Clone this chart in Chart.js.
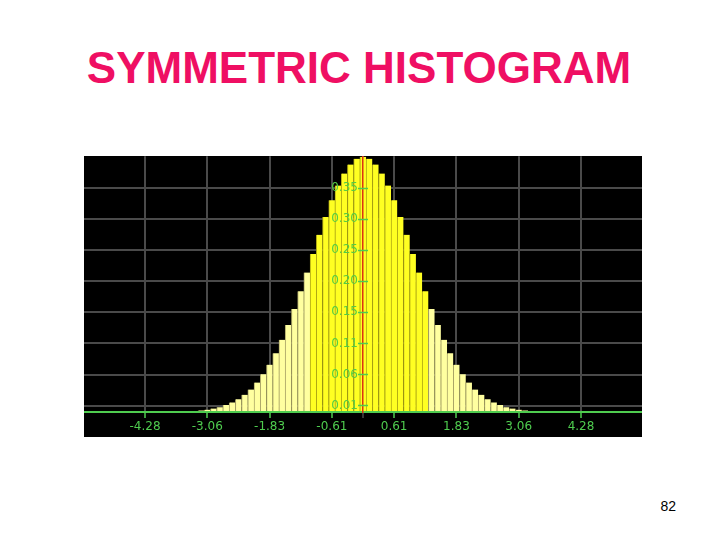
<!DOCTYPE html>
<html>
<head>
<meta charset="utf-8">
<script src="https://cdn.jsdelivr.net/npm/chart.js@4"></script>
<style>
  html, body { margin:0; padding:0; background:#fff; width:720px; height:540px; overflow:hidden; }
  #title { position:absolute; left:0; top:43px; width:718px; text-align:center;
           font:bold 44px "Liberation Sans", Arial, sans-serif; line-height:50px; color:#ef0f63; }
  #page { position:absolute; left:0; top:498px; width:676px; text-align:right;
          font:14px "Liberation Sans", Arial, sans-serif; line-height:16px; color:#000; }
  #plot { position:absolute; left:84px; top:156px; width:558px; height:281px; background:#000; overflow:hidden; }
  #plot canvas { display:block; margin-top:-7px; }
</style>
</head>
<body>
<div id="title">SYMMETRIC HISTOGRAM</div>
<div id="plot"><canvas id="c" width="558" height="288"></canvas></div>
<div id="page">82</div>
<script>
// ---- data ----
const binCenters = [
  -3.424, -3.302, -3.180, -3.058, -2.935, -2.813, -2.691, -2.568, -2.446, -2.324,
  -2.201, -2.079, -1.957, -1.835, -1.712, -1.590, -1.468, -1.345, -1.223, -1.101,
  -0.978, -0.856, -0.734, -0.612, -0.489, -0.367, -0.245, -0.122, 0,
   0.122,  0.245,  0.367,  0.489,  0.612,  0.734,  0.856,  0.978,  1.101,  1.223,
   1.345,  1.468,  1.590,  1.712,  1.835,  1.957,  2.079,  2.201,  2.324,  2.446,
   2.568,  2.691,  2.813,  2.935,  3.058,  3.180,  3.302,  3.424
];
const binHeights = [
  0.0011, 0.0017, 0.0025, 0.0037, 0.0054, 0.0076, 0.011, 0.015, 0.020, 0.027,
  0.035, 0.046, 0.059, 0.074, 0.092, 0.113, 0.136, 0.161, 0.189, 0.218,
  0.247, 0.277, 0.305, 0.331, 0.354, 0.373, 0.387, 0.396, 0.399,
  0.396, 0.387, 0.373, 0.354, 0.331, 0.305, 0.277, 0.247, 0.218, 0.189,
  0.161, 0.136, 0.113, 0.092, 0.074, 0.059, 0.046, 0.035, 0.027, 0.020,
  0.015, 0.011, 0.0076, 0.0054, 0.0037, 0.0025, 0.0017, 0.0011
];
const xTickValues = [-4.282, -3.058, -1.835, -0.611, 0, 0.611, 1.835, 3.058, 4.282];
const xTickLabels = ['-4.28', '-3.06', '-1.83', '-0.61', '', '0.61', '1.83', '3.06', '4.28'];
const yTickValues = [0.01, 0.0586, 0.1072, 0.1558, 0.2044, 0.253, 0.3016, 0.3502];
const yTickLabels = ['0.01', '0.06', '0.11', '0.15', '0.20', '0.25', '0.30', '0.35'];
const highlightLow = -1.00, highlightHigh = 1.25;   // brighter central band

// ---- styles ----
const GRID = '#4a4a4a', GREEN = '#4fcc4f', LABEL = '#55cc44', RED = '#dd3311';
const BRIGHT = '#ffff22', PALE = '#ffffa0', BRIGHT_EDGE = '#b0a814', PALE_EDGE = '#aaa466';

const inBand = x => x > highlightLow && x < highlightHigh;
const points = binCenters.map((x, i) => ({ x: x, y: binHeights[i] }));

new Chart(document.getElementById('c'), {
  type: 'bar',
  data: {
    datasets: [{
      data: points,
      backgroundColor: binCenters.map(x => inBand(x) ? BRIGHT : PALE),
      borderColor: binCenters.map(x => inBand(x) ? BRIGHT_EDGE : PALE_EDGE),
      borderWidth: { left: 1, right: 0, top: 0, bottom: 0 },
      borderSkipped: false,
      barPercentage: 1,
      categoryPercentage: 1
    }]
  },
  options: {
    responsive: false,
    animation: false,
    devicePixelRatio: 1,
    layout: { padding: { left: 0, right: 0, top: 0, bottom: 0.6 } },
    plugins: { legend: { display: false }, tooltip: { enabled: false }, title: { display: false } },
    scales: {
      x: {
        type: 'linear',
        position: 'bottom',
        min: -5.48, max: 5.48,
        offset: false,
        afterBuildTicks: a => { a.ticks = xTickValues.map(v => ({ value: v })); },
        grid: {
          offset: false,
          color: GRID,
          lineWidth: 2,
          tickLength: 6,
          tickColor: ctx => (ctx.tick && ctx.tick.value === 0) ? GRID : GREEN,
          tickWidth: 1.5
        },
        border: { color: GREEN, width: 2, z: 1 },
        ticks: {
          autoSkip: false, maxRotation: 0, padding: 2,
          color: GREEN,
          font: { family: 'DejaVu Sans', size: 12 },
          callback: (v, i) => xTickLabels[i]
        }
      },
      y: {
        type: 'linear',
        position: { x: 0 },
        min: 0, max: 0.4,
        afterBuildTicks: a => { a.ticks = yTickValues.map(v => ({ value: v })); },
        grid: { color: GRID, lineWidth: 2, drawTicks: false },
        border: { color: RED, width: 1.5, z: 1 },
        ticks: { display: false }
      },
      y2: {
        type: 'linear',
        position: { x: -0.1 },
        min: 0, max: 0.4,
        afterBuildTicks: a => { a.ticks = yTickValues.map(v => ({ value: v })); },
        grid: { drawOnChartArea: false, drawTicks: true, tickLength: -10, tickColor: GREEN, tickWidth: 1.5, z: 1 },
        border: { display: false },
        ticks: {
          z: 2,
          padding: 0,
          autoSkip: false,
          color: LABEL,
          font: { family: 'DejaVu Sans', size: 12 },
          callback: (v, i) => yTickLabels[i]
        }
      }
    }
  }
});
</script>
</body>
</html>
